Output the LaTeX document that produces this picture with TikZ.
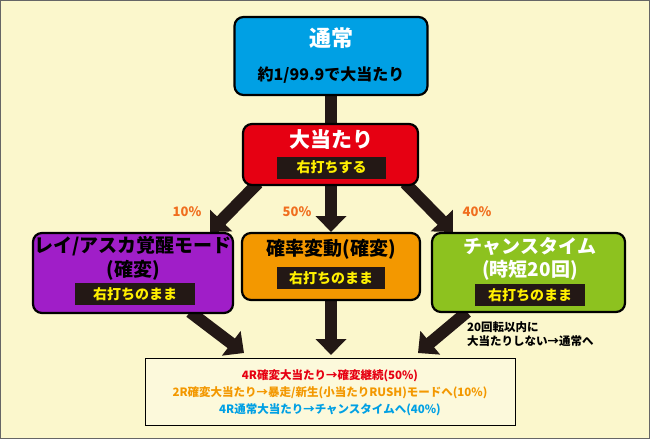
\documentclass[tikz,border=0pt]{standalone}
\usepackage{fontspec}
\setmainfont{Noto Sans CJK JP}
\usetikzlibrary{arrows.meta}
\definecolor{bg}{HTML}{FBF7CC}
\definecolor{cblue}{HTML}{00A0E4}
\definecolor{cred}{HTML}{E60012}
\definecolor{cpur}{HTML}{A01EC8}
\definecolor{corg}{HTML}{F39800}
\definecolor{cgrn}{HTML}{8DC21F}
\definecolor{dk}{HTML}{231815}
\definecolor{pct}{HTML}{F06E1E}
\definecolor{yl}{HTML}{FFF000}
\begin{document}
\begin{tikzpicture}[x=1pt,y=-1pt,font=\bfseries,
  box/.style={draw=black,line width=2.2pt,rounded corners=9pt},
  ttl/.style={font=\bfseries\fontsize{19}{21}\selectfont,inner sep=0pt},
  sub/.style={font=\bfseries\fontsize{16}{18}\selectfont,inner sep=0pt},
  strip/.style={fill=dk,text=yl,font=\bfseries\fontsize{14}{16}\selectfont,inner sep=0pt,minimum height=22pt},
  arr/.style={draw=dk,line width=12pt,-{Triangle[length=16pt,width=30pt]}},
  pc/.style={text=pct,font=\bfseries\fontsize{13}{15}\selectfont},
  bl/.style={font=\bfseries\fontsize{11.5}{14}\selectfont,inner sep=0pt}]
\draw[fill=bg,draw=gray!80!black,line width=1pt] (0.5,0.5) rectangle (649.5,438.5);
\useasboundingbox (0,0) rectangle (650,439);
% arrow coordinates
\coordinate (a0) at (331,95); \coordinate (a1) at (331,152);
\coordinate (c1) at (258,183); \coordinate (d1) at (210,232);
\coordinate (c2) at (331,185); \coordinate (d2) at (331,232);
\coordinate (c3) at (405,183); \coordinate (d3) at (453,232);
\coordinate (e1) at (190,312); \coordinate (f1) at (244,353);
\coordinate (e2) at (331,300); \coordinate (f2) at (331,355);
\coordinate (e3) at (467,312); \coordinate (f3) at (418,353);
\draw[arr] (a0) -- (a1);
\draw[arr] (c1) -- (d1); \draw[arr] (c2) -- (d2); \draw[arr] (c3) -- (d3);
\draw[arr] (e1) -- (f1); \draw[arr] (e2) -- (f2); \draw[arr] (e3) -- (f3);
% boxes
\node[box,fill=cblue,minimum width=193pt,minimum height=78pt] (n) at (331,56) {};
\node[ttl,text=white,font=\bfseries\fontsize{22}{24}\selectfont] (nt) at (331,38) {通常};
\node[sub,text=black] (ns) at (331,75) {約1/99.9で大当たり};
\node[box,fill=cred,minimum width=175pt,minimum height=61pt] (o) at (330.5,154.5) {};
\node[ttl,text=white,font=\bfseries\fontsize{21}{23}\selectfont] (ot) at (331,140) {大当たり};
\node[strip,minimum width=109pt] (os) at (331.5,167.5) {右打ちする};
\node[box,fill=cpur,minimum width=200pt,minimum height=80pt] (l) at (133,273) {};
\node[ttl,text=black] (lt) at (133,246) {レイ/アスカ覚醒モード};
\node[ttl,text=black] (lt2) at (133,270) {(確変)};
\node[strip,minimum width=120pt] (ls) at (135,294) {右打ちのまま};
\node[box,fill=corg,minimum width=178pt,minimum height=67pt] (m) at (331,266.5) {};
\node[ttl,text=black] (mt) at (331,249) {確率変動(確変)};
\node[strip,minimum width=108pt] (ms) at (331,278) {右打ちのまま};
\node[box,fill=cgrn,minimum width=193pt,minimum height=79pt] (r) at (528.5,272.5) {};
\node[ttl,text=white] (rt) at (530,246) {チャンスタイム};
\node[ttl,text=white] (rt2) at (530,270) {(時短20回)};
\node[strip,minimum width=110pt] (rs) at (530,295) {右打ちのまま};
\node[draw=black,line width=0.8pt,fill=bg!70!white,minimum width=370pt,minimum height=67pt] (b) at (330,391.5) {};
\node[bl,text=cred] (b1) at (330,376) {4R確変大当たり→確変継続(50\%)};
\node[bl,text=corg] (b2) at (330,393) {2R確変大当たり→暴走/新生(小当たりRUSH)モードへ(10\%)};
\node[bl,text=cblue] (b3) at (330,410) {4R通常大当たり→チャンスタイムへ(40\%)};
\node[bl,align=left,anchor=west] (note) at (467,334) {20回転以内に\\大当たりしない→通常へ};
% percent labels
\node[pc] (p1) at (187,212) {10\%};
\node[pc] (p2) at (297,212) {50\%};
\node[pc] (p3) at (477,212) {40\%};
\end{tikzpicture}
\end{document}
